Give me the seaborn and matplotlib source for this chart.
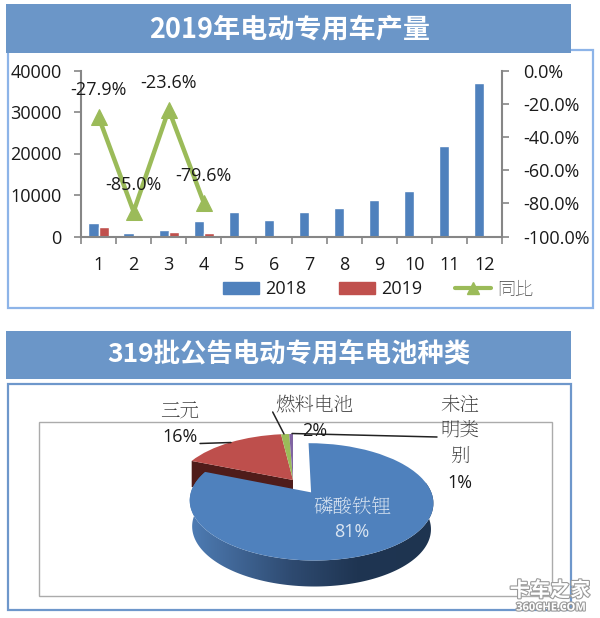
import numpy as np
import pandas as pd
import matplotlib
matplotlib.use("Agg")
import matplotlib.pyplot as plt
import matplotlib.patheffects as pe
import seaborn as sns
from matplotlib.colors import LinearSegmentedColormap
from matplotlib.lines import Line2D
from matplotlib.patches import Patch, Polygon, Rectangle
from matplotlib.transforms import Transform

# 数据
months = [1, 2, 3, 4, 5, 6, 7, 8, 9, 10, 11, 12]
output_2018 = [3200, 800, 1550, 3650, 5800, 4000, 6000, 6900, 8800, 11000, 21700, 37000]
output_2019 = [2300, 120, 1180, 745]
yoy = [-27.9, -85.0, -23.6, -79.6]
left_ticks = [0, 10000, 20000, 30000, 40000]
right_ticks = [-100, -80, -60, -40, -20, 0]

battery_names = ["磷酸铁锂", "三元", "燃料电池", "未注\n明类\n别"]
battery_labels = ["81%", "16%", "2%", "1%"]
battery_share = [81.2, 16.9, 1.3, 0.6]

BLUE = "#4F81BD"
RED = "#C0504D"
GREEN = "#9BBB59"
PURPLE = "#8064A2"
HEADER = "#6B96C8"
AXIS = "#868686"
INK = "#1A1A1A"
# matplotlib 只认 ttc 的第一个字面，这里只能用 JP 的名字
CJK = "Noto Sans CJK JP"
CJK_SERIF = "Noto Serif CJK JP"

sns.set_theme(style="white", font="Open Sans", rc={
    "font.family": ["Open Sans", CJK],
    "axes.unicode_minus": False,
})

W, H = 600, 618
fig = plt.figure(figsize=(W / 100, H / 100), dpi=100, facecolor="white")

# 整张图的底层坐标，单位是像素
overlay = fig.add_axes([0, 0, 1, 1])
overlay.set_zorder(0)


def panel(x0, y0, x1, y1, **kw):
    overlay.add_patch(Rectangle((x0, y0), x1 - x0, y1 - y0, **kw))


panel(7.5, 50, 592.5, 308, fc="white", ec="#8DB4E8", lw=1.6, zorder=1)
panel(7.5, 384, 571, 610, fc="white", ec="#6E97CB", lw=1.6, zorder=1)
panel(38.5, 422, 552, 595.5, fc="none", ec="#ABABAB", lw=1.0, zorder=1)
panel(6, 4, 571, 53, fc=HEADER, ec="none", zorder=2)
panel(6, 331, 571, 379, fc=HEADER, ec="none", zorder=2)
overlay.text(290, 29, "2019年电动专用车产量", color="white", fontsize=19.5,
             fontweight="bold", family=CJK, ha="center", va="center", zorder=3)
overlay.text(289, 355, "319批公告电动专用车电池种类", color="white", fontsize=19,
             fontweight="bold", family=CJK, ha="center", va="center", zorder=3)

# 柱状图 + 同比折线
ax = fig.add_axes([81 / W, 1 - 236.5 / H, (502 - 81) / W, (236.5 - 70.5) / H])
ax.set_zorder(1)
ax.patch.set_alpha(0)

df = pd.DataFrame({
    "month": months + months,
    "value": output_2018 + output_2019 + [np.nan] * (len(months) - len(output_2019)),
    "year": ["2018"] * len(months) + ["2019"] * len(months),
})
sns.barplot(data=df, x="month", y="value", hue="year", palette=[BLUE, RED], width=0.58,
            gap=0, saturation=1, errorbar=None, legend=False, ax=ax)
ax.set_xlim(-0.5, len(months) - 0.5)
ax.set_ylim(0, 40000)
ax.set_xlabel("")
ax.set_ylabel("")
ax.set_yticks(left_ticks)
ax.set_xticks(np.arange(len(months) + 1) - 0.5, labels=[])
ax.set_xticks(np.arange(len(months)), labels=months, minor=True)
ax.tick_params(axis="x", which="major", bottom=True, length=5, width=1.2, color=AXIS)
ax.tick_params(axis="x", which="minor", bottom=False, length=0, pad=14, labelsize=13, labelcolor=INK)
ax.tick_params(axis="y", left=True, length=5, width=1.2, color=AXIS, pad=9, labelsize=13, labelcolor=INK)

ax2 = ax.twinx()
ax2.set_zorder(2)
ax2.patch.set_alpha(0)
line_x = np.arange(len(yoy))
sns.lineplot(x=line_x, y=yoy, color=GREEN, lw=3.2, marker="^", ms=11.5, mec=GREEN,
             errorbar=None, legend=False, ax=ax2)
ax2.set_xlim(-0.5, len(months) - 0.5)
ax2.set_ylim(-100, 0)
ax2.set_ylabel("")
ax2.set_yticks(right_ticks, labels=[f"{t:.1f}%" for t in right_ticks])
ax2.tick_params(axis="y", right=True, length=5, width=1.2, color=AXIS, pad=10, labelsize=13, labelcolor=INK)
for i, v in enumerate(yoy):
    ax2.annotate(f"{v:.1f}%", (line_x[i], v), xytext=(0, 19), textcoords="offset points",
                 ha="center", va="center", fontsize=13, color=INK)

for spine in ["top", "right"]:
    ax.spines[spine].set_visible(False)
for spine in ["top", "left", "bottom"]:
    ax2.spines[spine].set_visible(False)
for a, spine in [(ax, "left"), (ax, "bottom"), (ax2, "right")]:
    a.spines[spine].set_color(AXIS)
    a.spines[spine].set_linewidth(1.5)

handles = [
    Patch(color=BLUE, label="2018"),
    Patch(color=RED, label="2019"),
    Line2D([], [], color=GREEN, lw=3, marker="^", ms=9, label="同比"),
]
leg = fig.legend(handles=handles, ncol=3, loc="center", bbox_to_anchor=(378 / W, 1 - 289 / H),
                 frameon=False, fontsize=13, handlelength=2, handleheight=0.66, handletextpad=0.3,
                 columnspacing=1.85, borderpad=0, borderaxespad=0, labelcolor=INK)
leg.get_texts()[2].set_family(CJK)
leg.get_texts()[2].set_fontweight("light")
leg.get_texts()[2].set_color("#404040")

# 三维饼图：单位圆经透视变换投到像素坐标
PIE_X, PIE_Y = 293, 480
PIE_A, PIE_B, PIE_K = 116, 53.2, 0.156
DEPTH = 26


def project(u, v):
    w = 1 + PIE_K * v
    return PIE_X + PIE_A * u / w, PIE_Y - PIE_B * v / w


class PiePerspective(Transform):
    input_dims = 2
    output_dims = 2

    def transform_non_affine(self, values):
        x, y = project(values[:, 0], values[:, 1])
        return np.column_stack([x, y])


wedges, _ = overlay.pie(battery_share, colors=[BLUE, "#BE4F4C", GREEN, PURPLE], startangle=90,
                        counterclock=False, explode=[0.27, 0, 0, 0], radius=1,
                        wedgeprops={"lw": 0, "zorder": 4})
for w in wedges:
    w.set_transform(PiePerspective() + overlay.transData)
blue, red = wedges[0], wedges[1]
blue.set_zorder(6)

# 三元切开的内壁
a = np.radians(red.theta2)
corner = project(np.cos(a), np.sin(a))
overlay.add_patch(Polygon([corner, (PIE_X, PIE_Y), (PIE_X, PIE_Y + DEPTH), (corner[0], corner[1] + DEPTH)],
                          fc="#4F1C1A", ec="none", zorder=3))

# 磷酸铁锂的侧面，颜色从左到右变暗
t = np.radians(np.linspace(blue.theta1, 10, 200))
top_x, top_y = project(blue.center[0] + np.cos(t), blue.center[1] + np.sin(t))
mid_x = np.mean([top_x.min(), top_x.max()])
low_x = mid_x + (top_x - mid_x) * 0.98
side_xy = np.vstack([np.column_stack([top_x, top_y]), np.column_stack([low_x, top_y + DEPTH])[::-1]])
side = Polygon(side_xy, fc="none", ec="none", zorder=5)
overlay.add_patch(side)
side_cmap = LinearSegmentedColormap.from_list(
    "side", [(0, "#4F7DB5"), (0.42, "#2E4A70"), (0.68, "#1F3552"), (1, "#1E3450")])
im = overlay.imshow(np.linspace(0, 1, 256)[None, :], cmap=side_cmap, aspect="auto",
                    extent=(188, 436, 600, 430), zorder=5)
im.set_clip_path(side)

# 引线
for xs, ys in [((200, 231), (443.5, 442.5)), ((272.7, 284), (412, 434)), ((292, 437), (433.5, 437))]:
    overlay.add_line(Line2D(xs, ys, color="#222222", lw=1.1, zorder=7))

# 饼图标签
name_style = {"fontsize": 14, "family": CJK_SERIF, "fontweight": "light", "ha": "center", "va": "center", "zorder": 8}
pct_style = {"fontsize": 13, "ha": "center", "va": "center", "zorder": 8}
overlay.text(352, 507, battery_names[0], color="#DCE6F2", **name_style)
overlay.text(352, 532, battery_labels[0], color="#DCE6F2", **pct_style)
overlay.text(180, 412, battery_names[1], color="#404040", **name_style)
overlay.text(180, 437, battery_labels[1], color=INK, **pct_style)
overlay.text(315, 406, battery_names[2], color="#404040", **name_style)
overlay.text(315, 431, battery_labels[2], color=INK, **pct_style)
for row, part in enumerate(battery_names[3].split("\n")):
    overlay.text(460, 406 + row * 25.5, part, color="#404040", **name_style)
overlay.text(460, 483, battery_labels[3], color=INK, **pct_style)

# 水印
halo = [pe.withStroke(linewidth=1.6, foreground="#9A9A9A")]
overlay.text(550, 590, "卡车之家", color="white", fontsize=14.5, fontweight="bold", family=CJK,
             ha="center", va="center", zorder=9, path_effects=halo)
overlay.text(551, 608, "360CHE.COM", color="white", fontsize=8, fontweight="bold",
             ha="center", va="center", zorder=9, path_effects=halo)

overlay.set_aspect("auto")
overlay.set_xlim(0, W)
overlay.set_ylim(H, 0)
overlay.axis("off")

fig.savefig("out.png", dpi=100)
plt.close(fig)
